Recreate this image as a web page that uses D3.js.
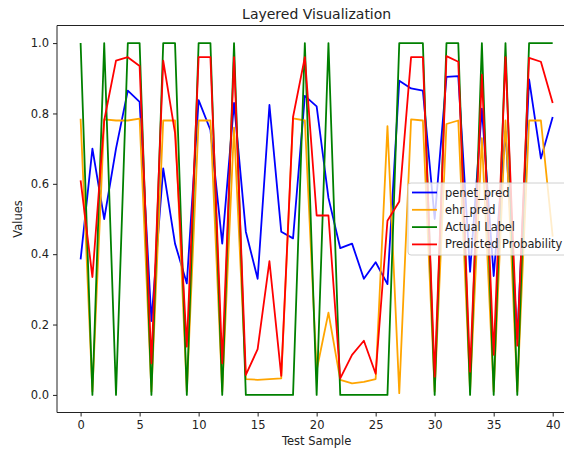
<!DOCTYPE html>
<html>
  <head>
    <meta charset="UTF-8">
    <script src="https://d3js.org/d3.v7.min.js"></script>
    <style>
      body { margin: 0; background: #fff; }
      text { font-family: "DejaVu Sans", sans-serif; fill: #222; }
      .axis .domain { display: none; }
      .axis line { stroke: #222; }
      .axis text { font-size: 11.5px; }
    </style>
    <title>Layered Visualization</title>
  </head>
  <body>
    <svg id="chart" width="564" height="449"></svg>
    <script>
      // values, samples 0..40
      const samples = d3.range(0, 41);
      const penetPred = [0.385, 0.70, 0.50, 0.70, 0.865, 0.833, 0.21, 0.644, 0.43, 0.317,
                         0.838, 0.753, 0.43, 0.83, 0.464, 0.33, 0.824, 0.464, 0.445, 0.85,
                         0.82, 0.56, 0.417, 0.43, 0.33, 0.377, 0.315, 0.893, 0.871, 0.865,
                         0.50, 0.904, 0.906, 0.35, 0.814, 0.338, 0.75, 0.16, 0.897, 0.672, 0.79];
      const ehrPred = [0.785, 0.01, 0.783, 0.78, 0.78, 0.785, 0.01, 0.78, 0.78, 0.01,
                       0.78, 0.78, 0.01, 0.76, 0.045, 0.043, 0.045, 0.047, 0.786, 0.78,
                       0.07, 0.234, 0.043, 0.033, 0.037, 0.045, 0.764, 0.005, 0.783, 0.78,
                       0.01, 0.77, 0.78, 0.01, 0.73, 0.01, 0.78, 0.01, 0.78, 0.78, 0.45];
      const actualLabel = [1, 0, 1, 0, 1, 1, 0, 1, 1, 0,
                           1, 1, 0, 1, 0, 0, 0, 0, 0, 1,
                           0, 1, 0, 0, 0, 0, 0, 1, 1, 1,
                           0, 1, 1, 0, 1, 0, 1, 0, 1, 1, 1];
      const predProb = [0.61, 0.335, 0.78, 0.95, 0.96, 0.935, 0.09, 0.95, 0.745, 0.137,
                        0.96, 0.96, 0.09, 0.96, 0.057, 0.13, 0.38, 0.054, 0.79, 0.96,
                        0.51, 0.51, 0.047, 0.114, 0.154, 0.06, 0.495, 0.55, 0.96, 0.96,
                        0.052, 0.963, 0.947, 0.066, 0.91, 0.114, 0.96, 0.14, 0.958, 0.947, 0.83];
      const seriesNames = ["penet_pred", "ehr_pred", "Actual Label", "Predicted Probability"];
      const seriesColors = ["blue", "orange", "green", "red"];
      const xTicks = [0, 5, 10, 15, 20, 25, 30, 35, 40];
      const yTicks = [0.0, 0.2, 0.4, 0.6, 0.8, 1.0];

      const svg = d3.select("svg#chart");
      const margin = { top: 25.5, left: 57, bottom: 412.5, right: 576.3 };

      const x = d3.scaleLinear().domain([-2, 42]).range([margin.left, margin.right]);
      const y = d3.scaleLinear().domain([-0.05, 1.05]).range([margin.bottom, margin.top]);

      // axes
      svg.append("g")
         .attr("class", "axis")
         .attr("transform", "translate(0," + margin.bottom + ")")
         .call(d3.axisBottom(x).tickValues(xTicks).tickSize(4).tickPadding(4).tickFormat(d3.format("d")));
      svg.append("g")
         .attr("class", "axis")
         .attr("transform", "translate(" + margin.left + ",0)")
         .call(d3.axisLeft(y).tickValues(yTicks).tickSize(4).tickPadding(4).tickFormat(d3.format(".1f")));

      // lines
      const allSeries = [penetPred, ehrPred, actualLabel, predProb];
      const line = d3.line().x((d, i) => x(samples[i])).y(d => y(d));
      const plot = svg.append("g");
      allSeries.forEach((vals, k) => {
        plot.append("path")
            .datum(vals)
            .attr("fill", "none")
            .attr("stroke", seriesColors[k])
            .attr("stroke-width", 1.8)
            .attr("stroke-linejoin", "round")
            .attr("d", line);
      });

      // spines
      svg.append("path")
         .attr("d", "M" + margin.right + "," + margin.top + "H" + margin.left + "V" + margin.bottom + "H" + margin.right)
         .attr("fill", "none")
         .attr("stroke", "#222")
         .attr("stroke-width", 1);

      // labels
      svg.append("text")
         .attr("x", (margin.left + margin.right) / 2)
         .attr("y", 19)
         .attr("text-anchor", "middle")
         .style("font-size", "14px")
         .text("Layered Visualization");
      svg.append("text")
         .attr("x", (margin.left + margin.right) / 2)
         .attr("y", 445)
         .attr("text-anchor", "middle")
         .style("font-size", "11.5px")
         .text("Test Sample");
      svg.append("text")
         .attr("transform", "translate(22," + ((margin.top + margin.bottom) / 2) + ") rotate(-90)")
         .attr("text-anchor", "middle")
         .style("font-size", "11.5px")
         .text("Values");

      // legend
      const legend = svg.append("g").attr("transform", "translate(408,183)");
      legend.append("rect")
            .attr("width", 175).attr("height", 72)
            .attr("rx", 3)
            .attr("fill", "white").attr("fill-opacity", 0.8)
            .attr("stroke", "#d0d0d0");
      seriesNames.forEach((name, k) => {
        const row = legend.append("g").attr("transform", "translate(0," + (9.5 + k * 17.3) + ")");
        row.append("line")
           .attr("x1", 4).attr("x2", 29)
           .attr("stroke", seriesColors[k]).attr("stroke-width", 1.8);
        row.append("text")
           .attr("x", 37).attr("dy", "0.35em")
           .style("font-size", "11.4px")
           .text(name);
      });
    </script>
  </body>
</html>
